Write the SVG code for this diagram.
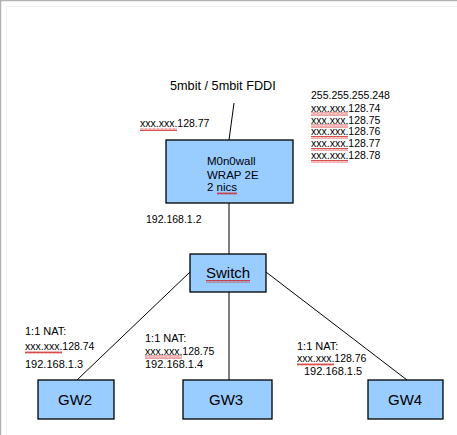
<svg xmlns="http://www.w3.org/2000/svg" width="457" height="435" viewBox="0 0 457 435">
<style>
.box{fill:#99ccff;stroke:#000;stroke-width:1.3}
.t{font-family:"Liberation Sans",Arial,sans-serif;fill:#000}
.s{font-size:10.5px}
.m{font-size:11px}
.b{font-size:15px}
.c line{stroke:#000;stroke-width:1}
.w{fill:none;stroke:#d01010;stroke-width:0.8}
</style>
<defs>
<pattern id="wave" width="4" height="3" patternUnits="userSpaceOnUse">
<path d="M0,2.5 L1,0.5 L2,2.5 L3,0.5 L4,2.5" fill="none" stroke="#d02020" stroke-width="0.8"/>
</pattern>
</defs>
<rect width="457" height="435" fill="#fff"/>
<path d="M0.5,435 V0.5 H457" fill="none" stroke="#b0b0b0" stroke-width="1.5"/>
<path d="M6.5,435 V6.5 H457" fill="none" stroke="#f0f0f0" stroke-width="1"/>
<g class="c" id="connectors">
<line x1="234" y1="103" x2="229" y2="140"/>
<line x1="229" y1="203" x2="229" y2="254"/>
<line x1="229" y1="292" x2="229" y2="380"/>
<line x1="190" y1="272" x2="77" y2="380"/>
<line x1="266" y1="272" x2="407" y2="380"/>
</g>
<g id="labels">
<text class="t" x="170" y="90" style="font-size:12.7px">5mbit / 5mbit FDDI</text>
<text class="t s" x="140" y="127">xxx.xxx.128.77</text>
<rect x="140" y="128" width="37" height="3" fill="url(#wave)"/>
<text class="t s" x="311" y="99">255.255.255.248</text>
<text class="t s" x="311" y="111.5">xxx.xxx.128.74</text>
<text class="t s" x="311" y="123.5">xxx.xxx.128.75</text>
<text class="t s" x="311" y="135">xxx.xxx.128.76</text>
<text class="t s" x="311" y="147">xxx.xxx.128.77</text>
<text class="t s" x="311" y="159">xxx.xxx.128.78</text>
<rect x="311" y="112.5" width="37" height="3" fill="url(#wave)"/>
<rect x="311" y="124.5" width="37" height="3" fill="url(#wave)"/>
<rect x="311" y="136" width="37" height="3" fill="url(#wave)"/>
<rect x="311" y="148" width="37" height="3" fill="url(#wave)"/>
<rect x="311" y="160" width="37" height="3" fill="url(#wave)"/>
<text class="t s" x="146" y="223">192.168.1.2</text>
<text class="t m" x="25" y="335">1:1 NAT:</text>
<text class="t s" x="25" y="350">xxx.xxx.128.74</text>
<rect x="25" y="351" width="37" height="3" fill="url(#wave)"/>
<text class="t m" x="25" y="368">192.168.1.3</text>
<text class="t m" x="145" y="342">1:1 NAT:</text>
<text class="t s" x="145" y="354.5">xxx.xxx.128.75</text>
<rect x="145" y="355.5" width="37" height="3" fill="url(#wave)"/>
<text class="t m" x="145" y="367.5">192.168.1.4</text>
<text class="t m" x="297" y="350">1:1 NAT:</text>
<text class="t s" x="297" y="362">xxx.xxx.128.76</text>
<rect x="297" y="363" width="37" height="3" fill="url(#wave)"/>
<text class="t m" x="304" y="374.5">192.168.1.5</text>
</g>
<g id="monowall">
<rect class="box" x="166" y="140" width="127" height="63"/>
<text class="t" x="207" y="165" style="font-size:11.5px">M0n0wall</text>
<text class="t" x="207" y="179" style="font-size:11.5px">WRAP 2E</text>
<text class="t" x="207" y="191" style="font-size:11.5px">2 nics</text>
<rect x="217" y="192" width="20" height="3" fill="url(#wave)"/>
</g>
<g id="switch">
<rect class="box" x="190" y="254" width="76" height="38"/>
<text class="t b" x="206" y="278">Switch</text>
<rect x="206" y="280" width="44" height="3" fill="url(#wave)"/>
</g>
<g id="gw2">
<rect class="box" x="38" y="380" width="76" height="39"/>
<text class="t b" x="58" y="405">GW2</text>
</g>
<g id="gw3">
<rect class="box" x="183" y="380" width="89" height="39"/>
<text class="t b" x="209" y="405">GW3</text>
</g>
<g id="gw4">
<rect class="box" x="368" y="380" width="75" height="39"/>
<text class="t b" x="388" y="405">GW4</text>
</g>
</svg>
